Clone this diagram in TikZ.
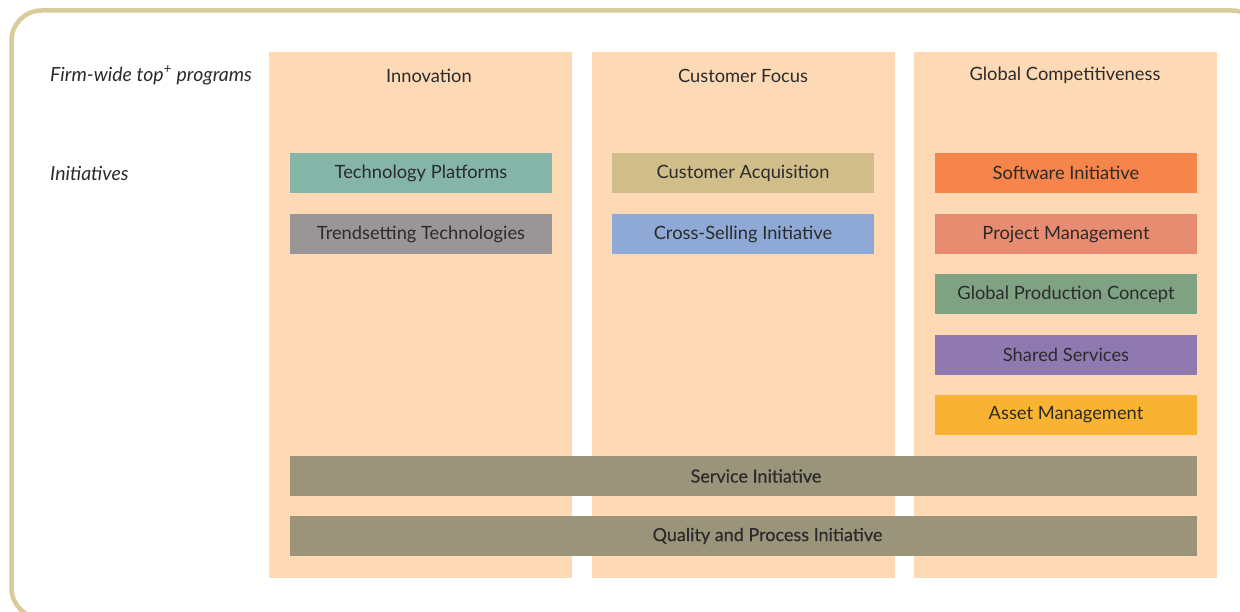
\documentclass[tikz,border=0pt]{standalone}
\usepackage{fontspec}
\setmainfont{Lato}
\newfontfamily\medfont[FakeBold=0.4]{Lato}
\definecolor{frame}{HTML}{D9CB9A}
\definecolor{colbg}{HTML}{FDD9B5}
\definecolor{txt}{HTML}{2B2B2B}
\definecolor{cTech}{HTML}{84B5A8}
\definecolor{cTrend}{HTML}{9A9596}
\definecolor{cAcq}{HTML}{D0BD8A}
\definecolor{cCross}{HTML}{8FA9D6}
\definecolor{cSoft}{HTML}{F5854A}
\definecolor{cProj}{HTML}{E78C70}
\definecolor{cGPC}{HTML}{7FA283}
\definecolor{cShared}{HTML}{8F79B0}
\definecolor{cAsset}{HTML}{F9B332}
\definecolor{cServ}{HTML}{99947A}
\begin{document}
\begin{tikzpicture}[x=1pt,y=-1pt,
  colbox/.style={fill=colbg, draw=none, minimum width=303pt, minimum height=526pt, anchor=north west, inner sep=0pt},
  ini/.style={draw=none, minimum width=262pt, minimum height=40pt, inner sep=0pt, text=txt, font=\fontsize{18.3}{21}\selectfont},
  wide/.style={draw=none, minimum width=907pt, minimum height=40pt, inner sep=0pt},
  widetxt/.style={inner sep=0pt, text=txt, font=\medfont\fontsize{18}{21}\selectfont},
  hdr/.style={text=txt, inner sep=0pt, font=\fontsize{18.3}{21}\selectfont},
  lbl/.style={text=txt, inner sep=0pt, anchor=west, font=\itshape\fontsize{19.5}{22}\selectfont}]
\useasboundingbox (0,0) rectangle (1240,612);
\draw[frame, line width=4.5pt, rounded corners=30pt] (11.5,10.5) rectangle (1262,618);
% columns
\node[colbox] (col1) at (269,52) {};
\node[colbox] (col2) at (592,52) {};
\node[colbox] (col3) at (914,52) {};
% headers
\node[hdr] (h1) at (429,75.5) {Innovation};
\node[hdr] (h2) at (743,75.5) {Customer Focus};
\node[hdr] (h3) at (1065,75.5) {Global Competitiveness};
% row labels
\node[lbl] (lprog) at (50,75.5) {Firm-wide top\textsuperscript{+} programs};
\node[lbl] (linit) at (50,173.5) {Initiatives};
% initiatives
\node[ini, fill=cTech] (tech) at (421,173) {Technology Platforms};
\node[ini, fill=cTrend] (trend) at (421,234) {Trendsetting Technologies};
\node[ini, fill=cAcq] (acq) at (743,173) {Customer Acquisition};
\node[ini, fill=cCross] (cross) at (743,234) {Cross-Selling Initiative};
\node[ini, fill=cSoft] (soft) at (1066,173) {Software Initiative};
\node[ini, fill=cProj] (proj) at (1066,234) {Project Management};
\node[ini, fill=cGPC] (gpc) at (1066,294) {Global Production Concept};
\node[ini, fill=cShared] (shared) at (1066,355) {Shared Services};
\node[ini, fill=cAsset] (asset) at (1066,415) {Asset Management};
\node[wide, fill=cServ] (serv) at (743.5,476) {};
\node[widetxt] (servt) at ([xshift=12.5pt]serv.center) {Service Initiative};
\node[wide, fill=cServ] (qual) at (743.5,536) {};
\node[widetxt] (qualt) at ([xshift=24pt]qual.center) {Quality and Process Initiative};
\end{tikzpicture}
\end{document}
